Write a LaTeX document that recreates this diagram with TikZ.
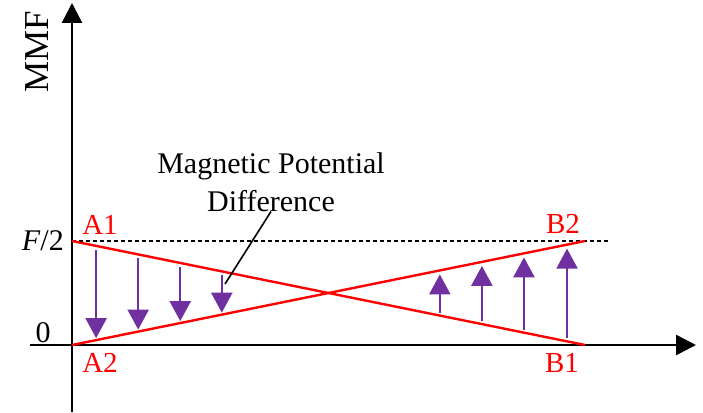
\documentclass[tikz,border=0pt]{standalone}
\usepackage{fontspec}
\setmainfont{Liberation Serif}
\usetikzlibrary{arrows.meta, calc}
\definecolor{vecpurple}{RGB}{112,48,160}

\begin{document}
\begin{tikzpicture}[x=1pt, y=-1pt,
  axis/.style={line width=2.6pt, -{Triangle[length=20pt, width=20pt]}},
  mmfline/.style={red, line width=2.4pt},
  diffvec/.style={vecpurple, line width=2.4pt, -{Triangle[length=20pt, width=21pt]}},
  lbl/.style={red, inner sep=0pt, font=\fontsize{29}{34}\selectfont},
  ticklbl/.style={inner sep=0pt, font=\fontsize{30}{36}\selectfont}]
  \useasboundingbox (0,0) rectangle (703,412);
  % end points of the two MMF lines
  \coordinate (A1) at (72,241);
  \coordinate (A2) at (72,345);
  \coordinate (B1) at (585,345);
  \coordinate (B2) at (585,241);
  % x-axis
  \coordinate (xstart) at (30,345);
  \coordinate (xend) at (696,345);
  \draw[axis] (xstart) -- (xend);
  % y-axis
  \coordinate (ystart) at (72,412);
  \coordinate (yend) at (72,3);
  \draw[axis] (ystart) -- (yend);
  \node[ticklbl, rotate=90, anchor=base, font=\fontsize{35}{40}\selectfont]
    (mmf) at (48,52) {MMF};
  % F/2 level
  \coordinate (halfend) at (610,241);
  \draw[line width=2pt, dash pattern=on 4pt off 3pt] (A1) -- (halfend);
  \node[ticklbl, anchor=base east] (half) at (64,250) {\textit{F}/2};
  \node[ticklbl, anchor=base] (zero) at (43,342) {0};
  % MMF lines
  \draw[mmfline] (A1) -- (B1);
  \draw[mmfline] (A2) -- (B2);
  \node[lbl, anchor=base] (labA1) at (100,234) {A1};
  \node[lbl, anchor=base] (labA2) at (100,372) {A2};
  \node[lbl, anchor=base] (labB2) at (563,233) {B2};
  \node[lbl, anchor=base] (labB1) at (562,372) {B1};
  % potential difference, left side
  \foreach \t in {0.047,0.129,0.211,0.292}
    \draw[diffvec] ($(A1)!\t!(B1)+(0,4)$) -- ($(A2)!\t!(B2)+(0,-2)$);
  % potential difference, right side
  \foreach \t in {0.717,0.799,0.881,0.965}
    \draw[diffvec] ($(A1)!\t!(B1)+(0,-3)$) -- ($(A2)!\t!(B2)+(0,4)$);
  % annotation
  \node[inner sep=0pt, align=center, anchor=north,
    font=\fontsize{30}{38}\selectfont] (note) at (271,152)
    {Magnetic Potential\\Difference};
  \coordinate (notetip) at (225,284);
  \draw[line width=1.6pt] (note.south) -- (notetip);
\end{tikzpicture}
\end{document}
